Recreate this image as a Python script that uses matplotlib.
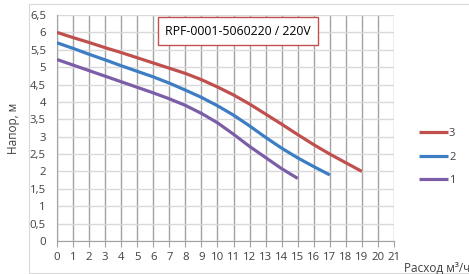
import matplotlib
matplotlib.use('Agg')
import matplotlib.pyplot as plt
from matplotlib.patches import Rectangle
from matplotlib.ticker import FuncFormatter

plt.rcParams['font.family'] = ['Open Sans', 'DejaVu Sans']

TITLE = 'RPF-0001-5060220 / 220V'
X_LABEL = 'Расход м³/ч'
Y_LABEL = 'Напор, м'

# flow, m3/h
flow_3 = [0, 1, 2, 3, 4, 5, 6, 7, 8, 9, 10, 11, 12, 13, 14, 15, 16, 17, 18, 19]
flow_2 = [0, 1, 2, 3, 4, 5, 6, 7, 8, 9, 10, 11, 12, 13, 14, 15, 16, 17]
flow_1 = [0, 1, 2, 3, 4, 5, 6, 7, 8, 9, 10, 11, 12, 13, 14, 15]

# head, m
head_3 = [6.0, 5.85, 5.71, 5.56, 5.42, 5.27, 5.12, 4.97, 4.82, 4.64,
          4.43, 4.2, 3.94, 3.65, 3.36, 3.06, 2.77, 2.5, 2.25, 2.0]
head_2 = [5.7, 5.54, 5.37, 5.21, 5.04, 4.88, 4.72, 4.54, 4.34, 4.13,
          3.89, 3.62, 3.31, 2.98, 2.67, 2.39, 2.14, 1.9]
head_1 = [5.22, 5.06, 4.9, 4.74, 4.58, 4.42, 4.26, 4.09, 3.9, 3.67,
          3.4, 3.07, 2.72, 2.4, 2.08, 1.8]

series = [('3', flow_3, head_3, '#c0504d'),
          ('2', flow_2, head_2, '#3c7dc4'),
          ('1', flow_1, head_1, '#7b5ea7')]

x_ticks = list(range(0, 22))
y_ticks = [i / 2 for i in range(0, 14)]


def comma_format(v, pos):
    if v == int(v):
        return str(int(v))
    return str(v).replace('.', ',')


def plot():
    fig = plt.figure(figsize=(4.69, 2.74), dpi=100)
    fig.patches.append(Rectangle((29 / 469, 0.003), 0.99, 1 - 4 / 274 - 0.003,
                                 transform=fig.transFigure, fill=False,
                                 edgecolor='#d9d9d9', lw=0.8))
    ax = fig.add_axes([57 / 469, 33 / 274, 337 / 469, 226 / 274])

    handles = []
    for name, x, y, color in series:
        line, = ax.plot(x, y, color=color, lw=2.3, label=name,
                        solid_capstyle='butt', solid_joinstyle='round',
                        zorder=3)
        handles.append(line)

    ax.set_xlim(0, 21)
    ax.set_ylim(0, 6.5)
    ax.set_xticks(x_ticks)
    ax.set_yticks(y_ticks)
    ax.yaxis.set_major_formatter(FuncFormatter(comma_format))
    ax.tick_params(axis='x', length=4, color='#a0a0a0', pad=4,
                   labelsize=8.2, labelcolor='#404040')
    ax.tick_params(axis='y', length=0, pad=8, labelsize=8.2,
                   labelcolor='#404040')
    ax.grid(axis='x', color='#a3a3a3', lw=1)
    ax.grid(axis='y', color='#d9d9d9', lw=1)
    ax.set_axisbelow(True)
    for side in ('top', 'right'):
        ax.spines[side].set_visible(False)
    ax.spines['bottom'].set_color('#a0a0a0')
    ax.spines['left'].set_color('#a3a3a3')

    ax.text(0.537, 0.929, TITLE, transform=ax.transAxes, ha='center',
            va='center', fontsize=8.8, color='#000000',
            bbox=dict(boxstyle='square,pad=0.6', fc='white',
                      ec='#c0504d', lw=1))

    fig.legend(handles=handles, loc='center left',
               bbox_to_anchor=(409 / 469, 1 - 157 / 274), frameon=False,
               fontsize=8, handlelength=2.6, handletextpad=0.1,
               labelspacing=1.1, labelcolor='#404040')

    fig.text(13 / 469, 1 - 128 / 274, Y_LABEL, rotation=90, ha='center',
             va='center', fontsize=8.5, color='#404040')
    fig.text(404 / 469, 1 - 268 / 274, X_LABEL, ha='left', va='center',
             fontsize=8.5, color='#404040')

    fig.savefig('out.png', dpi=100)


if __name__ == '__main__':
    plot()
